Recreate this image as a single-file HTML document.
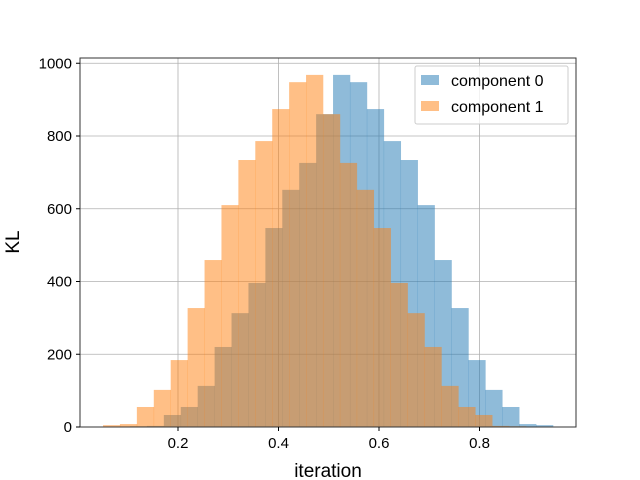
<!DOCTYPE html>
<html><head><meta charset="utf-8"><style>
body{margin:0;background:#fff;}
svg{display:block;font-family:"Liberation Sans","DejaVu Sans",sans-serif;}
</style></head><body>
<svg id="chart" width="640" height="480">
<rect width="640" height="480" fill="#fff"/>
<g id="grid"></g>
<g id="bars"></g>
<rect x="80" y="58" width="496" height="369" fill="none" stroke="#333" stroke-width="1"/>
<g id="ticks"></g>
<text x="328" y="477" font-size="19" text-anchor="middle" fill="#000">iteration</text>
<text transform="translate(19,242) rotate(-90)" font-size="19" text-anchor="middle" fill="#000">KL</text>
<g>
<rect x="415" y="66" width="153" height="58" fill="#fff" fill-opacity="0.8" stroke="#ccc" rx="2"/>
<rect x="421" y="75" width="18" height="10" fill="#1f77b4" fill-opacity="0.5"/>
<text x="451" y="86" font-size="16" fill="#000">component 0</text>
<rect x="421" y="101" width="18" height="10" fill="#ff7f0e" fill-opacity="0.5"/>
<text x="451" y="112" font-size="16" fill="#000">component 1</text>
</g>
</svg>
<script>
const comp0Start = 0.1045;
const comp0Width = 0.03367;
const comp0Counts = [2,3,33,55,113,220,313,396,547,652,726,860,968,948,874,786,734,610,459,327,184,102,55,8,5];
const comp1Start = 0.0508;
const comp1Width = 0.03367;
const comp1Counts = [5,8,55,102,184,327,459,610,734,786,874,948,968,860,726,652,547,396,313,220,113,55,33,3,2];
const xTicks = [0.2,0.4,0.6,0.8];
const xTickLabels = ["0.2","0.4","0.6","0.8"];
const yTicks = [0,200,400,600,800,1000];
const yTickLabels = ["0","200","400","600","800","1000"];

const NS="http://www.w3.org/2000/svg";
function xs(v){return 77.5+v*502.5;}
function ys(v){return 427-v*0.36375;}
const grid=document.getElementById('grid'),bars=document.getElementById('bars'),ticks=document.getElementById('ticks');
function mk(tag,attrs,parent){const e=document.createElementNS(NS,tag);for(const k in attrs)e.setAttribute(k,attrs[k]);parent.appendChild(e);return e;}
xTicks.forEach((t,i)=>{
  const g=mk('line',{x1:xs(t),x2:xs(t),y1:58,y2:427,stroke:'#b0b0b0','stroke-width':0.8},grid);
  
  
  const tk=mk('line',{x1:xs(t),x2:xs(t),y1:427,y2:431,stroke:'#000'},ticks);
  
  
  const tx=mk('text',{x:xs(t),y:448,'font-size':15,'text-anchor':'middle'},ticks);
  tx.textContent=xTickLabels[i];
  
  
});
yTicks.forEach((t,i)=>{
  const g=mk('line',{x1:80,x2:576,y1:ys(t),y2:ys(t),stroke:'#b0b0b0','stroke-width':0.8},grid);
  
  
  const tk=mk('line',{x1:76,x2:80,y1:ys(t),y2:ys(t),stroke:'#000'},ticks);
  
  
  const tx=mk('text',{x:72,y:ys(t)+5,'font-size':15,'text-anchor':'end'},ticks);
  tx.textContent=yTickLabels[i];
  
  
});
function drawSeries(start,w,counts,color,name){
  counts.forEach((c,i)=>{
    const x0=xs(start+i*w),x1=xs(start+(i+1)*w);
    const r=mk('rect',{x:x0,y:ys(c),width:x1-x0+0.3,height:ys(0)-ys(c),fill:color,'fill-opacity':0.5},bars);
    
    
  });
}
drawSeries(comp0Start,comp0Width,comp0Counts,'#1f77b4','component-0');
drawSeries(comp1Start,comp1Width,comp1Counts,'#ff7f0e','component-1');
</script>
</body></html>
